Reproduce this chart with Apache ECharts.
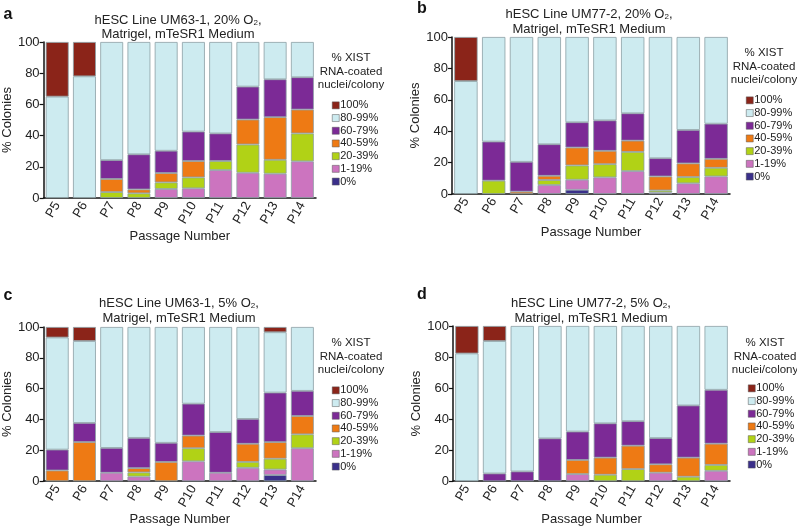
<!DOCTYPE html>
<html>
<head>
<meta charset="utf-8">
<script src="https://cdn.jsdelivr.net/npm/echarts@6/dist/echarts.min.js"></script>
<style>
  html, body { margin: 0; padding: 0; background: #fff; }
  #chart { width: 797px; height: 527px; }
</style>
</head>
<body>
<div id="chart"></div>
<script>
// passages on the x axis
var categories = ['P5', 'P6', 'P7', 'P8', 'P9', 'P10', 'P11', 'P12', 'P13', 'P14']
// stack order, bottom to top
var levels = ['0%', '1-19%', '20-39%', '40-59%', '60-79%', '80-99%', '100%']
var yTicks = [0, 20, 40, 60, 80, 100]

// panel a: UM63-1, 20% O2
var a0 = [0, 0, 0, 0, 0, 0, 0, 0, 0, 0]
var a1 = [0, 0, 0, 0, 5.8, 6.2, 17.9, 16.2, 15.6, 23.5]
var a20 = [0, 0, 3.8, 3, 4.2, 7, 5.8, 18.1, 8.9, 17.9]
var a40 = [0, 0, 8.4, 2.5, 6, 10.5, 0, 16, 27.3, 15.3]
var a60 = [0, 0, 12.1, 22.5, 14.3, 18.9, 17.7, 21.1, 24.3, 20.7]
var a80 = [65, 78, 75.7, 72, 69.7, 57.4, 58.6, 28.6, 23.9, 22.6]
var a100 = [35, 22, 0, 0, 0, 0, 0, 0, 0, 0]

// panel b: UM77-2, 20% O2
var b0 = [0, 0, 0, 0, 2.7, 0, 0, 0, 0, 0]
var b1 = [0, 0, 0, 5.7, 6.4, 10.6, 14.6, 1, 6.8, 11.2]
var b20 = [0, 8.5, 0, 3.2, 9.1, 8.4, 12.2, 1.3, 4, 5.5]
var b40 = [0, 0, 1.5, 2.7, 11.4, 8.5, 7.2, 8.9, 8.7, 5.7]
var b60 = [0, 24.9, 19, 20.1, 16.1, 19.4, 17.4, 11.6, 21.3, 22.4]
var b80 = [71.9, 66.6, 79.5, 68.3, 54.3, 53.1, 48.6, 77.2, 59.2, 55.2]
var b100 = [28.1, 0, 0, 0, 0, 0, 0, 0, 0, 0]

// panel c: UM63-1, 5% O2
var c0 = [0, 0, 0, 0, 0, 0, 0, 0, 4, 0]
var c1 = [0, 0, 5.5, 3, 0, 12.9, 5.5, 8.7, 3.6, 21.4]
var c20 = [0, 0, 0, 2.7, 0, 8.5, 0, 3.8, 7, 9]
var c40 = [7, 25.4, 0, 2.8, 12.5, 8.2, 0, 11.8, 10.8, 11.9]
var c60 = [13.5, 12.4, 16.1, 19.6, 12.4, 20.7, 26.4, 16.1, 32.1, 16.3]
var c80 = [72.7, 53.1, 78.4, 71.9, 75.1, 49.7, 68.1, 59.6, 39.1, 41.4]
var c100 = [6.8, 9.1, 0, 0, 0, 0, 0, 0, 3.4, 0]

// panel d: UM77-2, 5% O2
var d0 = [0, 0, 0, 0, 0, 0, 0, 0, 0, 0]
var d1 = [0, 0, 0, 0, 4.6, 0, 0, 5.5, 0, 6.7]
var d20 = [0, 0, 0, 0, 0, 4.2, 7.8, 0, 2.9, 3.8]
var d40 = [0, 0, 0, 0, 9.1, 11, 15.1, 5.4, 12.3, 13.7]
var d60 = [0, 5, 6.3, 27.6, 18.3, 22.1, 15.8, 16.9, 33.6, 34.7]
var d80 = [82.3, 85.3, 93.7, 72.4, 68, 62.7, 61.3, 72.2, 51.2, 41.1]
var d100 = [17.7, 9.7, 0, 0, 0, 0, 0, 0, 0, 0]

var panelData = [
  [a0, a1, a20, a40, a60, a80, a100],
  [b0, b1, b20, b40, b60, b80, b100],
  [c0, c1, c20, c40, c60, c80, c100],
  [d0, d1, d20, d40, d60, d80, d100]
]

var colors = ['#3a2f8a', '#cc74bf', '#b1d216', '#ee7a14', '#7c2a96', '#cdebf0', '#8b2419']
var font = 'Liberation Sans, Arial, sans-serif'

var grids = [
  { left: 40, top: 42, width: 276, height: 156 },
  { left: 452, top: 37, width: 278, height: 157 },
  { left: 42, top: 327, width: 274, height: 157 },
  { left: 453, top: 326, width: 277, height: 158 }
]
var titleTop = [[178, 20, 34], [589, 14, 29], [179, 303, 318], [591, 303, 318]]
var titleLines = [
  ['hESC Line UM63-1, 20% O', ','],
  ['hESC Line UM77-2, 20% O', ','],
  ['hESC Line UM63-1, 5% O', ','],
  ['hESC Line UM77-2, 5% O', ',']
]
var letters = [['a', 8, 15], ['b', 422, 9], ['c', 8, 296], ['d', 422, 295]]
var legendPos = [
  { x: 332, hx: 351, ty: 58, top: 99 },
  { x: 746, hx: 764, ty: 53, top: 94 },
  { x: 332, hx: 351, ty: 343, top: 384 },
  { x: 748, hx: 765, ty: 343, top: 382 }
]

var xAxes = []
var yAxes = []
var series = []
var legends = []
var graphics = []

grids.forEach(function (g, p) {
  xAxes.push({
    type: 'category',
    gridIndex: p,
    data: categories,
    name: 'Passage Number',
    nameLocation: 'middle',
    nameGap: 27,
    nameTextStyle: { fontFamily: font, fontSize: 13, color: '#222' },
    axisLine: { lineStyle: { color: '#111', width: 1.5 } },
    axisTick: { show: false },
    axisLabel: { rotate: 60, fontFamily: font, fontSize: 13, color: '#222', margin: 5 }
  })
  yAxes.push({
    type: 'value',
    gridIndex: p,
    min: yTicks[0],
    max: yTicks[yTicks.length - 1],
    interval: 20,
    name: '% Colonies',
    nameLocation: 'middle',
    nameGap: 25,
    nameTextStyle: { fontFamily: font, fontSize: 13, color: '#222' },
    axisLine: { show: true, lineStyle: { color: '#111', width: 1.5 } },
    axisTick: { show: true, length: 4, lineStyle: { color: '#111', width: 1.2 } },
    splitLine: { show: false },
    axisLabel: { fontFamily: font, fontSize: 13, color: '#222', margin: 4 }
  })
  panelData[p].forEach(function (arr, l) {
    series.push({
      type: 'bar',
      name: levels[l],
      stack: 'panel' + p,
      xAxisIndex: p,
      yAxisIndex: p,
      barWidth: '84%',
      data: arr.map(function (v) { return v === 0 ? null : v }),
      itemStyle: { color: colors[l], borderColor: '#8c9fa5', borderWidth: 0.8 },
      emphasis: { disabled: true }
    })
  })
  var lp = legendPos[p]
  legends.push({
    left: lp.x,
    top: lp.top,
    orient: 'vertical',
    padding: 0,
    itemGap: 0,
    itemWidth: 7,
    itemHeight: 7,
    icon: 'rect',
    itemStyle: { borderWidth: 0.5, borderColor: '#555' },
    data: levels.slice().reverse(),
    textStyle: { fontFamily: font, fontSize: 11, color: '#222', lineHeight: 12.7, padding: [0, 0, 0, -4] }
  })
  ;['% XIST', 'RNA-coated', 'nuclei/colony'].forEach(function (t, i) {
    graphics.push({
      type: 'text',
      style: {
        text: t, x: lp.hx, y: lp.ty + i * 13.5,
        textAlign: 'center', textVerticalAlign: 'middle',
        font: '11.5px ' + font, fill: '#222'
      }
    })
  })
  var tt = titleTop[p]
  graphics.push({
    type: 'text',
    style: {
      text: '{n|' + titleLines[p][0] + '}{s|2}{n|' + titleLines[p][1] + '}',
      x: tt[0], y: tt[1],
      textAlign: 'center', textVerticalAlign: 'middle',
      rich: {
        n: { fontFamily: font, fontSize: 13, fill: '#222', lineHeight: 14 },
        s: { fontFamily: font, fontSize: 8, fill: '#222', lineHeight: 8, verticalAlign: 'bottom', padding: [6, 0, 0, 0] }
      }
    }
  })
  graphics.push({
    type: 'text',
    style: {
      text: 'Matrigel, mTeSR1 Medium', x: tt[0], y: tt[2],
      textAlign: 'center', textVerticalAlign: 'middle',
      font: '13px ' + font, fill: '#222'
    }
  })
  var lt = letters[p]
  graphics.push({
    type: 'text',
    style: {
      text: lt[0], x: lt[1], y: lt[2],
      textAlign: 'center', textVerticalAlign: 'middle',
      font: 'bold 16px ' + font, fill: '#111'
    }
  })
})

var chart = echarts.init(document.getElementById('chart'))
chart.setOption({
  animation: false,
  grid: grids,
  xAxis: xAxes,
  yAxis: yAxes,
  legend: legends,
  series: series,
  graphic: graphics
})
window.addEventListener('resize', function () {
  chart.resize()
})
</script>
</body>
</html>
